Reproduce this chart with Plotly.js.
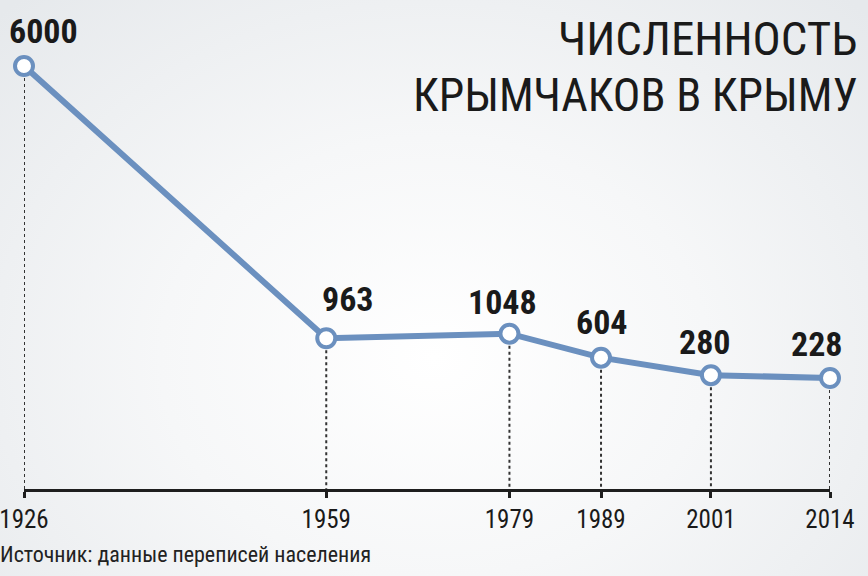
<!DOCTYPE html>
<html>
<head>
<meta charset="utf-8">
<script src="https://cdn.plot.ly/plotly-3.0.1.min.js"></script>
<style>
html,body{margin:0;padding:0;}
body{width:868px;height:576px;overflow:hidden;
background: radial-gradient(ellipse 70% 85% at 50% 62%, #ffffff 0%, #f6f7f8 45%, #e6e9ec 100%);}
#chart{width:868px;height:576px;}
text, tspan{font-stretch: 75% !important;}
</style>
</head>
<body>
<div id="chart"></div>
<script>
const years = [1926, 1959, 1979, 1989, 2001, 2014];
const population = [6000, 963, 1048, 604, 280, 228];
const labels = ['6000', '963', '1048', '604', '280', '228'];
const titleLines = ['ЧИСЛЕННОСТЬ', 'КРЫМЧАКОВ В КРЫМУ'];
const sourceText = 'Источник: данные переписей населения';

// styling (label offsets in pixels)
const labelXShift = [19, 22, -7, 1, -6, -13];
const labelYShift = [13, 17, 10, 14, 11, 12];
const FONT = 'Roboto';
const LINE = '#6b90bf';
const yMin = -1826, yMax = 7221;

const trace = {
  x: years, y: population, type: 'scatter', mode: 'lines+markers',
  line: {color: LINE, width: 6},
  marker: {size: 18, color: '#ffffff', line: {color: LINE, width: 4}},
  hoverinfo: 'skip', cliponaxis: false
};

const shapes = years.map((yr, i) => ({
  type: 'line', xref: 'x', yref: 'y', layer: 'below',
  x0: yr, x1: yr, y0: population[i], y1: yMin,
  line: {color: '#333333', width: 2, dash: 'dot'}
}));

const annotations = years.map((yr, i) => ({
  x: yr, y: population[i], xref: 'x', yref: 'y',
  text: '<b>' + labels[i] + '</b>', showarrow: false,
  xanchor: 'center', yanchor: 'bottom',
  xshift: labelXShift[i], yshift: labelYShift[i],
  font: {family: FONT, size: 34, color: '#1a1a1a'}
}));

annotations.push({
  xref: 'paper', yref: 'paper', x: (860 - 24) / 806, y: 1 - 9 / 489,
  xanchor: 'right', yanchor: 'top', showarrow: false, align: 'right',
  text: titleLines[0], font: {family: FONT, size: 47, color: '#1a1a1a'}
});
annotations.push({
  xref: 'paper', yref: 'paper', x: (860 - 24) / 806, y: 1 - 66 / 489,
  xanchor: 'right', yanchor: 'top', showarrow: false, align: 'right',
  text: titleLines[1], font: {family: FONT, size: 46, color: '#1a1a1a'}
});
annotations.push({
  xref: 'paper', yref: 'paper', x: -26 / 806, y: -51 / 489,
  xanchor: 'left', yanchor: 'top', showarrow: false,
  text: sourceText, font: {family: FONT, size: 22, color: '#222222'}
});

const layout = {
  width: 868, height: 576,
  margin: {l: 24, r: 38, t: 0, b: 87},
  paper_bgcolor: 'rgba(0,0,0,0)', plot_bgcolor: 'rgba(0,0,0,0)',
  showlegend: false,
  font: {family: FONT},
  xaxis: {
    range: [1926, 2014], tickvals: years, ticktext: years.map(String),
    ticklabeloverflow: 'allow',
    showline: true, linecolor: '#1e1e1e', linewidth: 3,
    ticks: 'outside', ticklen: 6, tickwidth: 3, tickcolor: '#1e1e1e',
    showgrid: false, zeroline: false, fixedrange: true,
    tickfont: {family: FONT, size: 25, color: '#1a1a1a'}
  },
  yaxis: {range: [yMin, yMax], visible: false, showgrid: false, zeroline: false, fixedrange: true},
  shapes: shapes,
  annotations: annotations
};

Plotly.newPlot('chart', [trace], layout, {displayModeBar: false, staticPlot: true});
</script>
</body>
</html>
